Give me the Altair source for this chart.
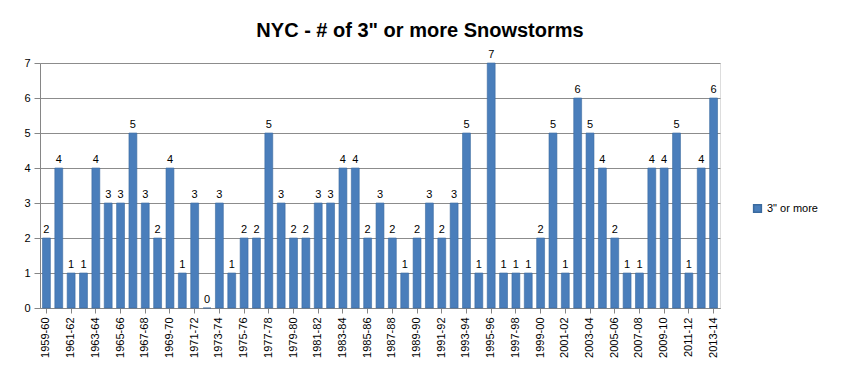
import altair as alt
import pandas as pd

seasons = [
    "1959-60", "1960-61", "1961-62", "1962-63", "1963-64", "1964-65", "1965-66",
    "1966-67", "1967-68", "1968-69", "1969-70", "1970-71", "1971-72", "1972-73",
    "1973-74", "1974-75", "1975-76", "1976-77", "1977-78", "1978-79", "1979-80",
    "1980-81", "1981-82", "1982-83", "1983-84", "1984-85", "1985-86", "1986-87",
    "1987-88", "1988-89", "1989-90", "1990-91", "1991-92", "1992-93", "1993-94",
    "1994-95", "1995-96", "1996-97", "1997-98", "1998-99", "1999-00", "2000-01",
    "2001-02", "2002-03", "2003-04", "2004-05", "2005-06", "2006-07", "2007-08",
    "2008-09", "2009-10", "2010-11", "2011-12", "2012-13", "2013-14",
]
storms = [
    2, 4, 1, 1, 4, 3, 3,
    5, 3, 2, 4, 1, 3, 0,
    3, 1, 2, 2, 5, 3, 2,
    2, 3, 3, 4, 4, 2, 3,
    2, 1, 2, 3, 2, 3, 5,
    1, 7, 1, 1, 1, 2, 5,
    1, 6, 5, 4, 2, 1, 1,
    4, 4, 5, 1, 4, 6,
]
y_ticks = [0, 1, 2, 3, 4, 5, 6, 7]
series_name = '3" or more'
shown_labels = [s for s in seasons if int(s[:4]) % 2 == 1]

df = pd.DataFrame({"season": seasons, "storms": storms, "series": series_name})

font = "Liberation Sans"

x = alt.X(
    "season:N",
    sort=seasons,
    title=None,
    scale=alt.Scale(paddingInner=0.36, paddingOuter=0.2),
    axis=alt.Axis(
        values=shown_labels,
        labelAngle=-90,
        labelFontSize=11,
        labelColor="#000000",
        labelFont=font,
        domainColor="#868686",
        tickColor="#868686",
        tickSize=5,
        labelPadding=4,
    ),
)

y = alt.Y(
    "storms:Q",
    title=None,
    scale=alt.Scale(domain=[0, 7], nice=False),
    axis=alt.Axis(
        values=y_ticks,
        tickCount=8,
        labelOverlap=False,
        labelFontSize=11,
        labelColor="#000000",
        labelFont=font,
        gridColor="#8C8C8C",
        gridWidth=1,
        domainColor="#868686",
        tickColor="#868686",
        tickSize=6,
        labelPadding=4,
    ),
)

bars = alt.Chart(df).mark_bar(stroke="#3A6A9F", strokeWidth=0.6).encode(
    x=x,
    y=y,
    color=alt.Color(
        "series:N",
        scale=alt.Scale(domain=[series_name], range=["#4A7EBB"]),
        legend=alt.Legend(
            title=None,
            orient="none",
            legendX=712,
            legendY=140,
            symbolType="square",
            symbolSize=60,
            labelFontSize=11,
            labelFont=font,
            labelColor="#000000",
        ),
    ),
)

labels = alt.Chart(df).mark_text(
    dy=-8, fontSize=11, font=font, color="#000000"
).encode(
    x=x,
    y=y,
    text=alt.Text("storms:Q"),
)

chart = (
    alt.layer(bars, labels)
    .properties(
        width=680,
        height=245,
        title=alt.TitleParams(
            'NYC - # of 3" or more Snowstorms',
            fontSize=20,
            font=font,
            fontWeight="bold",
            color="#000000",
            anchor="middle",
            dx=40,
            offset=8,
        ),
        padding={"left": 32, "top": 55, "right": 114, "bottom": 64},
        autosize=alt.AutoSizeParams(type="none"),
    )
    .configure_view(stroke=None)
    .configure(background="#FFFFFF")
)

chart.save("out.html", embed_options={"renderer": "svg", "actions": False})
